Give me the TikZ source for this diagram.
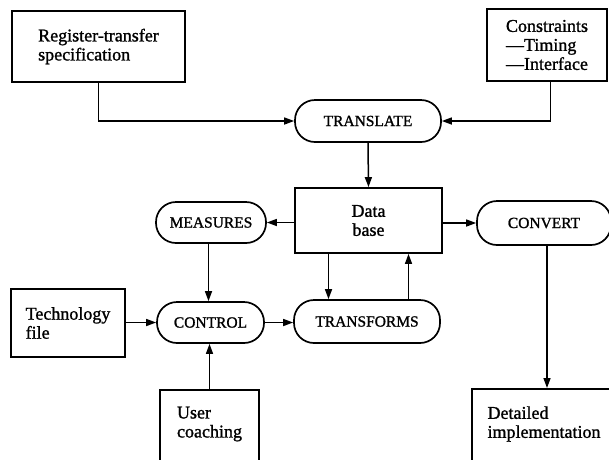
\documentclass[tikz,border=0pt]{standalone}
\usepackage{fontspec}
\setmainfont{Liberation Serif}[RawFeature={embolden=1.2}]
\usetikzlibrary{arrows.meta}
\begin{document}
\begin{tikzpicture}[x=1pt,y=-1pt,
  box/.style={draw,line width=1.8pt,inner sep=0pt,align=center,font=\fontsize{18}{19}\selectfont},
  txt/.style={inner sep=0pt,align=left,font=\fontsize{18}{19}\selectfont},
  pill/.style={draw,line width=1.7pt,rounded corners=20pt,inner sep=0pt,font=\fontsize{15.5}{16}\selectfont},
  arr/.style={line width=1.5pt,-{Triangle[length=10pt,width=7pt]}}]
\useasboundingbox (0,0) rectangle (609,459);
\fill[white] (0,0) rectangle (609,459);
\clip (0,0) rectangle (609,459);

\node[box,minimum width=173pt,minimum height=71pt,align=left] (reg) at (98.5,46.5) {Register-transfer\\specification};
\node[box,minimum width=120pt,minimum height=72pt,align=left] (cons) at (547,45) {Constraints\\—Timing\\—Interface};
\node[pill,minimum width=146pt,minimum height=42pt] (translate) at (368,121) {TRANSLATE};
\node[box,minimum width=147pt,minimum height=65pt] (db) at (368.5,220.5) {Data\\base};
\node[pill,minimum width=110pt,minimum height=41pt] (meas) at (211,222.5) {MEASURES};
\node[pill,minimum width=134pt,minimum height=44pt] (conv) at (544,223) {CONVERT};
\node[box,minimum width=114pt,minimum height=68pt,align=left] (tech) at (68,323) {Technology\\file};
\node[pill,minimum width=107pt,minimum height=41pt] (ctrl) at (210.5,322.5) {CONTROL};
\node[pill,minimum width=146pt,minimum height=43pt] (trans) at (367,321.5) {TRANSFORMS};
\node[box,minimum width=99pt,minimum height=90pt,anchor=north] (userbox) at (209.5,389) {};
\node[txt] (user) at (209.5,424) {User\\coaching};
\node[box,minimum width=148pt,minimum height=90pt,anchor=north] (detbox) at (546,388) {};
\node[txt] (det) at (544,424) {Detailed\\implementation};

\draw[arr] (reg.south) |- (translate.west);
\draw[arr] ([xshift=3.5pt]cons.south) |- (translate.east);
\draw[arr] (translate.south) -- (db.north);
\draw[arr] (db.west |- meas.east) -- (meas.east);
\draw[arr] (db.east |- conv.west) -- (conv.west);
\draw[arr] ([xshift=-2.5pt]meas.south) -- ([xshift=-2.5pt]meas.south |- ctrl.north);
\draw[arr] (tech.east |- ctrl.west) -- (ctrl.west);
\draw[arr] (ctrl.east) -- (ctrl.east -| trans.west);
\draw[arr] ([xshift=-40pt]db.south) -- ([xshift=-40pt]db.south |- trans.north);
\draw[arr] ([xshift=40pt]db.south |- trans.north) -- ([xshift=40pt]db.south);
\draw[arr] (userbox.north) -- (userbox.north |- ctrl.south);
\draw[arr] ([xshift=3pt]conv.south) -- ([xshift=3pt]conv.south |- detbox.north);
\end{tikzpicture}
\end{document}
